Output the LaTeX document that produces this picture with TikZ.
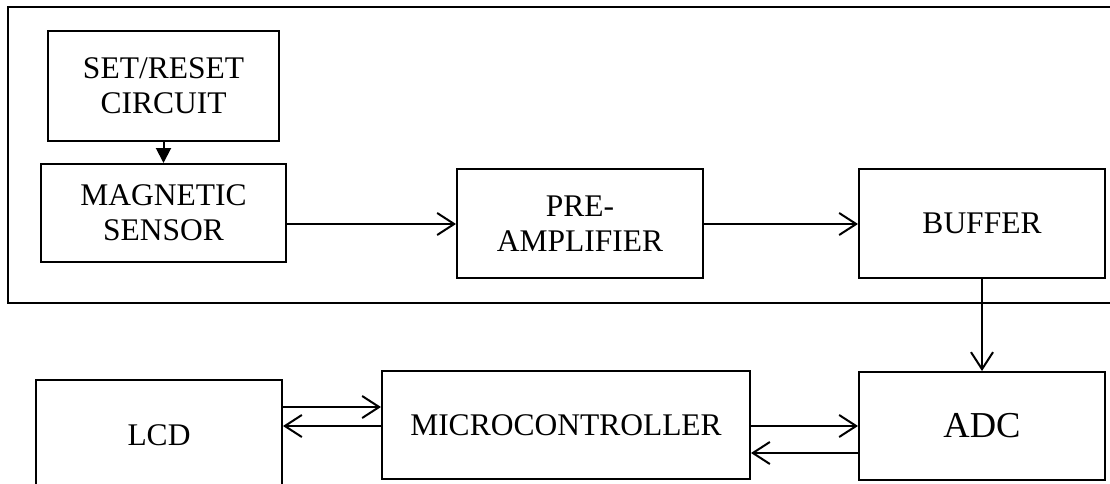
\documentclass[tikz,border=0pt]{standalone}
\usepackage{fontspec}
\setmainfont{Liberation Serif}
\usetikzlibrary{arrows.meta}
\begin{document}
\begin{tikzpicture}[x=1pt,y=-1pt,
  blk/.style={draw,line width=2pt,align=center,inner sep=0pt,
    font=\fontsize{31.5}{35}\selectfont},
  link/.style={line width=2pt,-{Straight Barb[length=17pt,width=22pt,line width=2pt]}},
  solidlink/.style={line width=2pt,-{Triangle[length=15pt,width=15pt]}}]
\useasboundingbox (0,0) rectangle (1110,484);
\clip (0,0) rectangle (1110,484);
% sensor board outline
\draw[line width=2pt] (1120,7) -- (8,7) -- (8,303) -- (1120,303);
% blocks
\node[blk,minimum width=231pt,minimum height=110pt] (setr) at (163.5,86) {SET/RESET\\CIRCUIT};
\node[blk,minimum width=245pt,minimum height=98pt] (mag) at (163.5,213) {MAGNETIC\\SENSOR};
\node[blk,minimum width=246pt,minimum height=109pt] (pre) at (580,223.5) {PRE-\\AMPLIFIER};
\node[blk,minimum width=246pt,minimum height=109pt] (buf) at (982,223.5) {BUFFER};
\node[blk,minimum width=246pt,minimum height=108pt,font=\fontsize{36.5}{40}\selectfont] (adc) at (982,426) {ADC};
\node[blk,minimum width=368pt,minimum height=108pt] (mcu) at (566,425) {MICROCONTROLLER};
\node[blk,minimum width=246pt,minimum height=110pt] (lcd) at (159,435) {LCD};
% connections
\draw[solidlink] (setr.south) -- (mag.north);
\draw[link] (mag.east |- 0,224) -- (pre.west |- 0,224);
\draw[link] (pre.east |- 0,224) -- (buf.west |- 0,224);
\draw[link] (buf.south) -- (adc.north);
\draw[link] (mcu.east |- 0,426) -- (adc.west |- 0,426);
\draw[link] (adc.west |- 0,453) -- (mcu.east |- 0,453);
\draw[link] (lcd.east |- 0,407) -- (mcu.west |- 0,407);
\draw[link] (mcu.west |- 0,426) -- (lcd.east |- 0,426);
\end{tikzpicture}
\end{document}
